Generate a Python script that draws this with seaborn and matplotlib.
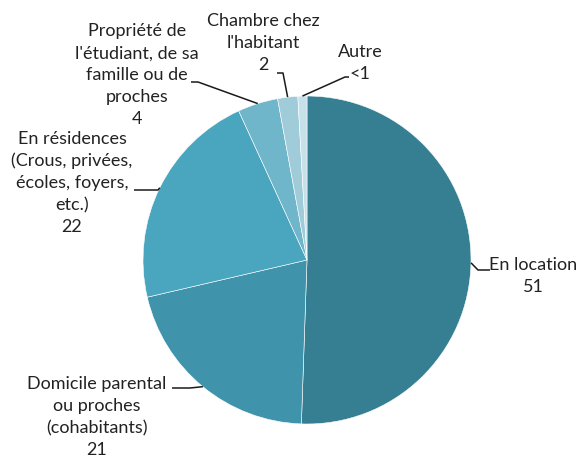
import numpy as np
import matplotlib.pyplot as plt
import seaborn as sns

sns.set_theme(style="white")
plt.rcParams["font.family"] = ["Lato", "DejaVu Sans"]

categories = ["En location", "Domicile parental\nou proches\n(cohabitants)",
              "En résidences\n(Crous, privées,\nécoles, foyers,\netc.)",
              "Propriété de\nl'étudiant, de sa\nfamille ou de\nproches",
              "Chambre chez\nl'habitant", "Autre"]
values = [51, 21, 22, 4, 2, 0.9]
value_labels = ["51", "21", "22", "4", "2", "<1"]
colors = ["#367f93", "#3f93ab", "#4aa6bf", "#70b6ca", "#a0cbd9", "#c6e1ea"]

# label text centres and leader line elbows, in pixels of the 580x459 image
text_pos = [(533, 276), (97, 417), (72, 183), (137, 75), (263, 43), (360, 63)]
elbows = [[(478, 270), (490, 270)], [(190, 388), (172, 388)],
          [(158, 190), (134, 190)], [(198, 82), (191, 82)],
          [(283, 73), (277, 73)], [(345, 77), (349, 77)]]

CX, CY, R = 307, 260, 164


def px(x, y):
    return (x - CX) / R, (CY - y) / R


fig = plt.figure(figsize=(5.8, 4.59), dpi=100)
ax = fig.add_axes([0, 0, 1, 1])
wedges, _ = ax.pie(values, colors=colors, startangle=90, counterclock=False,
                   radius=1, wedgeprops=dict(edgecolor="white", linewidth=0.4))

for w, cat, val, tp, el in zip(wedges, categories, value_labels, text_pos, elbows):
    ang = np.deg2rad((w.theta1 + w.theta2) / 2)
    x0, y0 = np.cos(ang), np.sin(ang)
    pts = [(x0, y0)] + [px(*p) for p in el]
    xs, ys = zip(*pts)
    ax.plot(xs, ys, color="#1a1a1a", lw=1.1, solid_capstyle="butt")
    ax.text(*px(*tp), f"{cat}\n{val}", ha="center", va="center",
            fontsize=13, color="#222222", linespacing=1.45)

ax.set_xlim(-CX / R, (580 - CX) / R)
ax.set_ylim(-(459 - CY) / R, CY / R)
ax.set_aspect("equal")
ax.axis("off")
fig.savefig("out.png", dpi=100)
